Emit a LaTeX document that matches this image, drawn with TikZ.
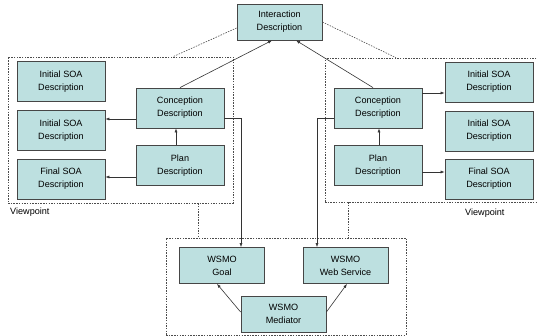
\documentclass[tikz,border=0pt]{standalone}
\usepackage{fontspec}
\setmainfont{Liberation Sans}
\usetikzlibrary{arrows.meta,calc}
\definecolor{boxfill}{RGB}{189,224,224}
\definecolor{boxline}{RGB}{70,70,70}
\begin{document}
\begin{tikzpicture}[x=1pt,y=-1pt,
  box/.style={draw=boxline,fill=boxfill,line width=0.8pt,minimum width=88pt,minimum height=40pt,
    align=center,inner sep=1pt,font=\fontsize{9.1}{13.2}\selectfont},
  wbox/.style={box,minimum width=85pt,minimum height=36pt},
  vbox/.style={draw=black!70,dash pattern=on 1.5pt off 1.2pt,line width=0.6pt,inner sep=0pt},
  dline/.style={draw=black!70,dash pattern=on 1.5pt off 1.2pt,line width=0.6pt},
  arr/.style={draw=black!80,line width=0.6pt,-{Latex[length=4pt,width=3pt]}},
  lbl/.style={font=\fontsize{9.1}{13}\selectfont,inner sep=0pt}]
\useasboundingbox (0,0) rectangle (537,336);
% dashed containers
\node[vbox,minimum width=225pt,minimum height=146pt] (lvp) at (120.5,130) {};
\node[vbox,minimum width=220pt,minimum height=144pt] (rvp) at (435,130) {};
\node[vbox,minimum width=240pt,minimum height=97pt] (wvp) at (286,286.5) {};
% boxes
\node[box,minimum width=85pt,minimum height=36pt] (inter) at (279.5,22) {Interaction\\Description};
\node[box] (linit1) at (61,81.5) {Initial SOA\\Description};
\node[box] (linit2) at (61,130.5) {Initial SOA\\Description};
\node[box] (lfinal) at (61,179) {Final SOA\\Description};
\node[box] (lconc) at (180,108) {Conception\\Description};
\node[box] (lplan) at (180,165.5) {Plan\\Description};
\node[box] (rconc) at (378,108) {Conception\\Description};
\node[box] (rplan) at (378,165.5) {Plan\\Description};
\node[box] (rinit1) at (489,82) {Initial SOA\\Description};
\node[box] (rinit2) at (489,131) {Initial SOA\\Description};
\node[box] (rfinal) at (489,179) {Final SOA\\Description};
\node[wbox] (goal) at (222,265.5) {WSMO\\Goal};
\node[wbox] (ws) at (345.5,265.5) {WSMO\\Web Service};
\node[wbox] (med) at (283.5,314) {WSMO\\Mediator};
% labels
\node[lbl,anchor=west] (lv) at (10,212) {Viewpoint};
\node[lbl,anchor=west] (rv) at (465,213) {Viewpoint};
% dashed connectors
\draw[dline] ([yshift=-6pt]inter.west) -- ([xshift=52.5pt]lvp.north);
\draw[dline] (inter.east) -- ([xshift=-39pt]rvp.north);
\coordinate (lb) at ([xshift=77.5pt]lvp.south);
\coordinate (rb) at ([xshift=-87pt]rvp.south);
\draw[dline] (lb) -- (lb |- wvp.north);
\draw[dline] (rb) -- (rb |- wvp.north);
% arrows to interaction
\draw[arr] (lconc.north) -- ([xshift=-7.5pt]inter.south);
\draw[arr] ([xshift=-5pt]rconc.north) -- ([xshift=16.5pt]inter.south);
% left viewpoint arrows
\coordinate (a1) at ([yshift=-11pt]lconc.west);
\draw[arr] (a1) -- (a1 -| linit2.east);
\coordinate (a2) at ([yshift=-11.5pt]lplan.west);
\draw[arr] (a2) -- (a2 -| lfinal.east);
\draw[arr] ([xshift=-4pt]lplan.north) -- ([xshift=-4pt]lconc.south);
% right viewpoint arrows
\coordinate (b1) at ([yshift=15pt]rconc.east);
\draw[arr] (b1) -- (b1 -| rinit1.west);
\coordinate (b2) at ([yshift=-6.5pt]rplan.east);
\draw[arr] (b2) -- (b2 -| rfinal.west);
\draw[arr] ([xshift=1pt]rplan.north) -- ([xshift=1pt]rconc.south);
% to WSMO
\draw[arr] ([yshift=-10pt]lconc.east) -| ([xshift=19pt]goal.north);
\draw[arr] ([yshift=-10pt]rconc.west) -| ([xshift=-28.5pt]ws.north);
\draw[arr] ([yshift=2pt]med.west) -- ([xshift=-5pt]goal.south);
\draw[arr] ([yshift=2pt]med.east) -- ([xshift=1.5pt]ws.south);
\end{tikzpicture}
\end{document}
